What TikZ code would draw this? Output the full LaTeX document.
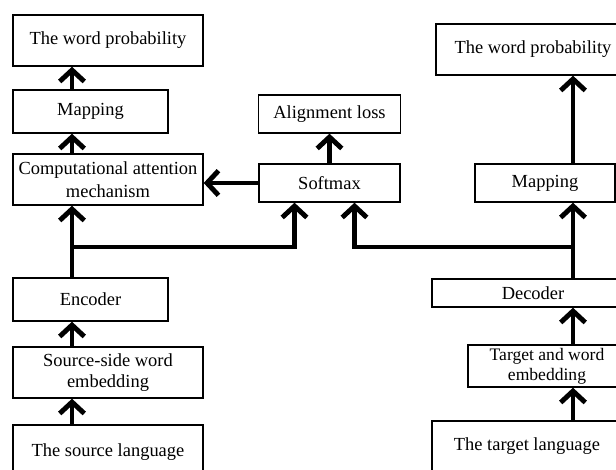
\documentclass[tikz,border=0pt]{standalone}
\usepackage{fontspec}
\setmainfont{Liberation Serif}
\usetikzlibrary{arrows.meta, calc}

\begin{document}
\begin{tikzpicture}[x=0.02cm, y=-0.02cm,
    box/.style={draw, line width=0.8pt, align=center, inner sep=0pt, fill=white,
      font=\fontsize{10.5}{12}\selectfont},
    arr/.style={line width=2.8pt, -{Straight Barb[length=6.5pt, width=14pt]}}]
    \useasboundingbox (0,0) rectangle (616,470);
    \clip (0,0) rectangle (616,470);
    % left column
    \node[box, minimum width=3.8cm, minimum height=1.02cm] (wpl) at (108,40.5) {The word probability};
    \node[box, minimum width=3.1cm, minimum height=0.86cm] (mapl) at (90.5,111.5) {Mapping};
    \node[box, minimum width=3.8cm, minimum height=1.02cm, font=\fontsize{10.5}{13}\selectfont] (cam) at (108,179.5) {Computational attention\\mechanism};
    \node[box, minimum width=3.1cm, minimum height=0.86cm] (enc) at (90.5,299.5) {Encoder};
    \node[box, minimum width=3.8cm, minimum height=1.02cm] (sswe) at (108,372.5) {Source-side word\\embedding};
    \node[box, minimum width=3.8cm, minimum height=1.08cm] (sl) at (108,452) {The source language};
    % middle
    \node[box, minimum width=2.84cm, minimum height=0.76cm] (align) at (329.5,114) {Alignment loss};
    \node[box, minimum width=2.82cm, minimum height=0.76cm] (soft) at (329.5,183) {Softmax};
    % right column
    \node[box, minimum width=3.88cm, minimum height=1.02cm] (wpr) at (533,49.5) {The word probability};
    \node[box, minimum width=2.8cm, minimum height=0.76cm] (mapr) at (545,183) {Mapping};
    \node[box, minimum width=4.04cm, minimum height=0.56cm] (dec) at (533,293) {Decoder};
    \node[box, minimum width=3.16cm, minimum height=0.84cm, font=\fontsize{10}{11.5}\selectfont] (twe) at (547,366) {Target and word\\embedding};
    \node[box, minimum width=3.8cm, minimum height=1.0cm] (tl) at (527,446) {The target language};
    \coordinate (lx) at (72,0);
    \coordinate (rx) at (573,0);
    \coordinate (jl) at (72,247);
    \coordinate (jr) at (573,247);
    % connectors
    \draw[arr] (sl.north -| lx) -- (sswe.south -| lx);
    \draw[arr] (sswe.north -| lx) -- (enc.south -| lx);
    \draw[arr] (enc.north -| lx) -- (cam.south -| lx);
    \draw[arr] (cam.north -| lx) -- (mapl.south -| lx);
    \draw[arr] (mapl.north -| lx) -- (wpl.south -| lx);
    \draw[arr] (jl) -| ([xshift=-0.7cm]soft.south);
    \draw[arr] (soft.west) -- (soft.west -| cam.east);
    \draw[arr] (soft.north) -- (align.south);
    \draw[arr] (tl.north -| rx) -- (twe.south -| rx);
    \draw[arr] (twe.north -| rx) -- (dec.south -| rx);
    \draw[arr] (dec.north -| rx) -- (mapr.south -| rx);
    \draw[arr] (mapr.north -| rx) -- (wpr.south -| rx);
    \draw[arr] (jr) -| ([xshift=0.5cm]soft.south);
  \end{tikzpicture}
\end{document}
